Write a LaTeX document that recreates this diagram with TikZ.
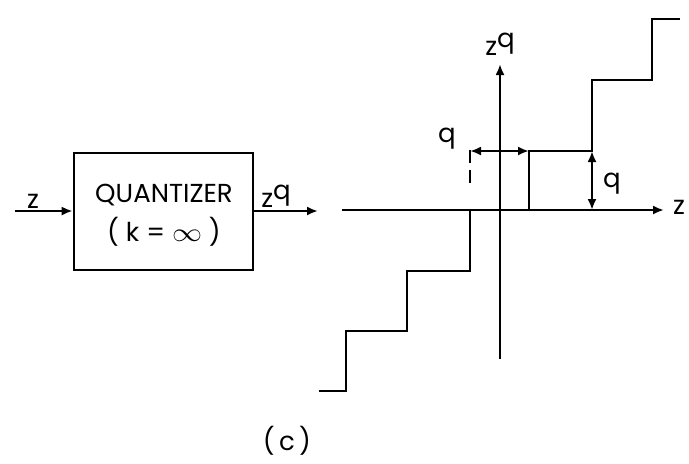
\documentclass[tikz,border=0pt]{standalone}
\usepackage{fontspec}
\setmainfont{Poppins}
\usetikzlibrary{arrows.meta}
\tikzset{
  qbox/.style={draw, minimum width=89.5pt, minimum height=58.5pt, inner sep=0pt},
  lbl/.style={inner sep=0pt, font=\fontsize{13}{15}\selectfont}
}
\newcommand{\zq}{z\raisebox{0.55ex}{q}}
\begin{document}
\begin{tikzpicture}[x=0.5pt,y=-0.5pt,line width=1.3pt,>={Latex[length=5.5pt,width=4.5pt]}]
  \useasboundingbox (0,0) rectangle (689,463);
  % block diagram
  \node[qbox] (quant) at (163.5,211.5) {};
  \node[lbl] (qname) at (164,195) {QUANTIZER};
  \node[lbl] (qk) at (164,232) {( k = \scalebox{1.25}[1.1]{$\infty$} )};
  \coordinate (zin) at (15,211);
  \coordinate (zout) at (318,211);
  \draw[->] (zin) -- (quant.west |- zin);
  \draw[->] (quant.east |- zout) -- (zout);
  \node[lbl] (zinlbl) at (33,201) {z};
  \node[lbl] (zoutlbl) at (276,196) {\zq};
  % axes
  \coordinate (xl) at (342,210);
  \coordinate (xr) at (664,210);
  \coordinate (yb) at (500,359);
  \coordinate (yt) at (500,64);
  \draw[->] (xl) -- (xr);
  \draw[->] (yb) -- (yt);
  \node[lbl] (xlbl) at (679,207) {z};
  \node[lbl] (ylbl) at (500,44) {\zq};
  % staircase
  \coordinate (s0) at (319,391);
  \coordinate (s1) at (346,331);
  \coordinate (s2) at (407,271);
  \coordinate (s3) at (470,210);
  \coordinate (s4) at (529,151);
  \coordinate (s5) at (592,80);
  \coordinate (s6) at (652,19);
  \coordinate (s7) at (680,19);
  \draw (s0) -| (s1) -| (s2) -| (s3) -| (s4) -| (s5) -| (s6) -- (s7);
  \coordinate (dtop) at (470,150);
  \draw[dash pattern=on 6.5pt off 3.5pt on 6.5pt off 20pt] (dtop) -- (s3);
  % step sizes
  \coordinate (qv) at (592,210);
  \draw[<->] (470,151) -- (s4 |- 0,151);
  \draw[<->] (592,151) -- (qv);
  \node[lbl] (qhlbl) at (447,139) {q};
  \node[lbl] (qvlbl) at (612,184) {q};
  \node[lbl] (cap) at (287,441) {(\,c\,)};
\end{tikzpicture}
\end{document}
